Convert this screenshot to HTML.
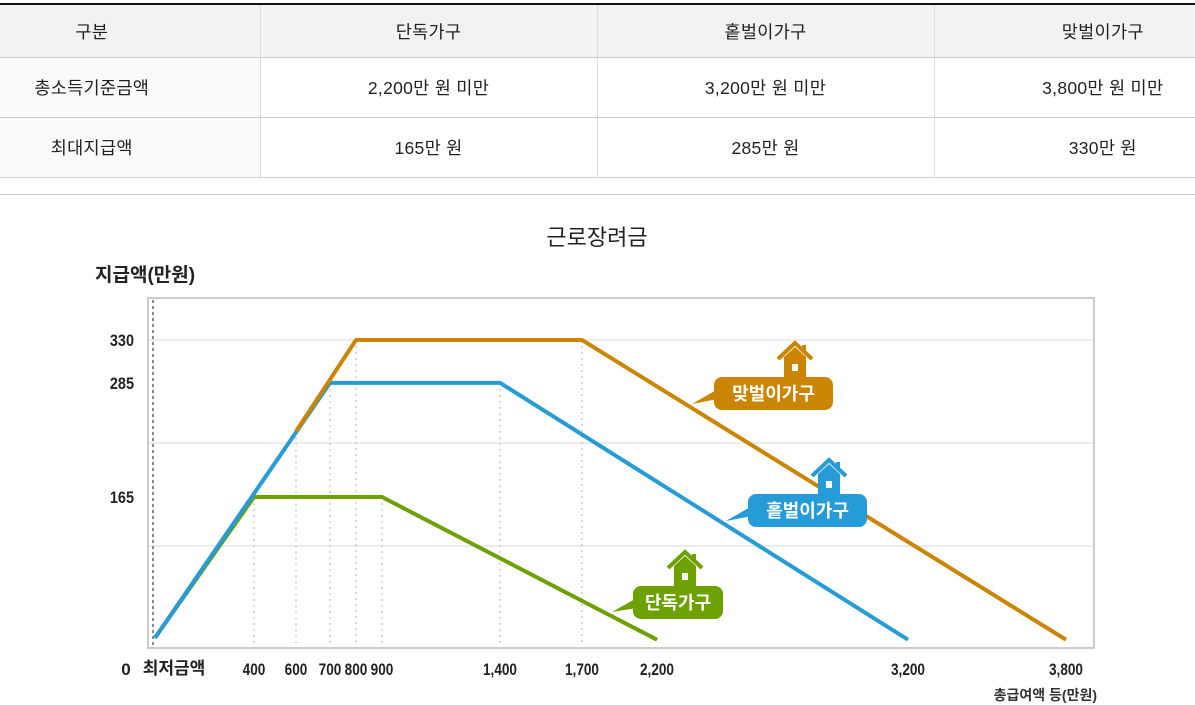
<!DOCTYPE html>
<html><head><meta charset="utf-8">
<style>
body{margin:0;width:1195px;height:705px;background:#fff;font-family:"Liberation Sans","Noto Sans CJK KR",sans-serif;overflow:hidden;position:relative}
table{position:absolute;left:0;top:3px;width:1195px;border-collapse:collapse;border-top:2px solid #111;table-layout:fixed}
td{height:59px;text-align:center;font-size:17.5px;color:#222;border-bottom:1px solid #ccc;border-right:1px solid #ddd;padding:0;letter-spacing:0.3px}
tr:first-child td{height:52px;background:#f2f2f2}
td:first-child{background:#fafafa;padding-right:76px}
tr:first-child td:first-child{background:#f2f2f2}
td:last-child{border-right:none;padding-left:76px}
#sep{position:absolute;left:0;top:194px;width:1195px;height:1px;background:#ccc}
svg{position:absolute;left:0;top:0}
</style></head><body>
<table>
<colgroup><col style="width:260px"><col style="width:337px"><col style="width:337px"><col style="width:261px"></colgroup>
<tr><td>구분</td><td>단독가구</td><td>홑벌이가구</td><td>맞벌이가구</td></tr>
<tr><td>총소득기준금액</td><td>2,200만 원 미만</td><td>3,200만 원 미만</td><td>3,800만 원 미만</td></tr>
<tr><td>최대지급액</td><td>165만 원</td><td>285만 원</td><td>330만 원</td></tr>
</table>
<div id="sep"></div>
<svg id="chart" width="1195" height="705"></svg>
<script>
const xTicks=[400,600,700,800,900,1400,1700,2200,3200,3800];
const xTickLabels=["400","600","700","800","900","1,400","1,700","2,200","3,200","3,800"];
const yTicks=[330,285,165];
const yTickLabels=["330","285","165"];
const singleX=[0,400,900,2200], singleY=[17,165,165,15];
const oneEarnerX=[0,700,1400,3200], oneEarnerY=[17,285,285,15];
const dualX=[600,800,1700,3800], dualY=[234,330,330,15];
// piecewise axis scale (non-linear axis in source)
const xDom=[0,400,600,700,800,900,1400,1700,2200,3200,3800];
const xRng=[155,254,296,330,356,382,500,582,657,908,1066];
function xs(v){for(let i=1;i<xDom.length;i++){if(v<=xDom[i]){const t=(v-xDom[i-1])/(xDom[i]-xDom[i-1]);return xRng[i-1]+t*(xRng[i]-xRng[i-1]);}}return xRng[xRng.length-1];}
function ys(v){return 654-0.9515*v;}
const svg=document.getElementById('chart');const NS='http://www.w3.org/2000/svg';
function el(t,a,txt){const e=document.createElementNS(NS,t);for(const k in a)e.setAttribute(k,a[k]);if(txt!==undefined)e.textContent=txt;svg.appendChild(e);return e;}
let e;
e=el('text',{x:597,y:245,'text-anchor':'middle','font-size':22,fill:'#222'},'근로장려금');

e=el('text',{x:95,y:281,'font-size':19,'font-weight':'bold',fill:'#222'},'지급액(만원)');

e=el('rect',{x:148,y:298,width:946,height:350,fill:'#fff',stroke:'#ccc','stroke-width':2});

[340,443,546].forEach(y=>{e=el('line',{x1:149,x2:1093,y1:y,y2:y,stroke:'#e6e6e6','stroke-width':1.5});
});
e=el('line',{x1:153,x2:153,y1:300,y2:646,stroke:'#888','stroke-width':2,'stroke-dasharray':'3,3'});

[400,600,700,800,900,1400,1700].forEach(v=>{
 const yt=v===400||v===900?ys(165):(v===700||v===1400?ys(285):(v===600?ys(234):ys(330)));
 e=el('line',{x1:xs(v),x2:xs(v),y1:yt,y2:646,stroke:'#ccc','stroke-width':1.5,'stroke-dasharray':'2,4'});
 });
function series(xsA,ysA,color,name){e=el('polyline',{points:xsA.map((v,i)=>xs(v)+','+ys(ysA[i])).join(' '),fill:'none',stroke:color,'stroke-width':4,'stroke-linejoin':'round'});
}
series(singleX,singleY,'#6ca100','line-single');
series(oneEarnerX,oneEarnerY,'#259bd8','line-single-earner');
series(dualX,dualY,'#cc8500','line-dual-earner');
xTicks.forEach((v,i)=>{e=el('text',{x:xs(v),y:675,'text-anchor':'middle','font-size':17,'font-weight':'bold',fill:'#222',transform:`translate(${xs(v)},0) scale(0.8,1) translate(${-xs(v)},0)`},xTickLabels[i]);
});
e=el('text',{x:126,y:675,'text-anchor':'middle','font-size':17,'font-weight':'bold',fill:'#222'},'0');

e=el('text',{x:174,y:674,'text-anchor':'middle','font-size':17,'font-weight':'bold',fill:'#222'},'최저금액');

e=el('text',{x:1097,y:700,'text-anchor':'end','font-size':14,'font-weight':'bold',fill:'#333'},'총급여액 등(만원)');

yTicks.forEach((v,i)=>{e=el('text',{x:134,y:ys(v)+6,'text-anchor':'end','font-size':17,'font-weight':'bold',fill:'#222',transform:`translate(134,0) scale(0.85,1) translate(-134,0)`},yTickLabels[i]);
});
function callout(x,y,w,color,txt,tx,ty,name){
 const g=document.createElementNS(NS,'g');svg.appendChild(g);
 
 const hx=x+w-38,hy=y;
 g.innerHTML=`<path d="M${x+4} ${y+12} L${tx} ${ty} L${x+4} ${y+22}Z" fill="${color}"/>
<rect x="${x}" y="${y}" width="${w}" height="33" rx="8" fill="${color}"/>
<path d="M${hx-17} ${hy-18} L${hx} ${hy-34} L${hx+17} ${hy-18}" fill="none" stroke="${color}" stroke-width="4"/>
<rect x="${hx+7}" y="${hy-32}" width="4" height="8" fill="${color}"/>
<path d="M${hx-11} ${hy-20} L${hx} ${hy-30} L${hx+11} ${hy-20} V${hy} H${hx-11}Z" fill="${color}"/>
<rect x="${hx-3}" y="${hy-13}" width="6" height="7" fill="#fff"/>
<text x="${x+w/2}" y="${y+23}" text-anchor="middle" font-size="18" font-weight="bold" fill="#fff">${txt}</text>`;}
callout(714,377,119,'#cc8500','맞벌이가구',692,404,'label-dual-earner');
callout(748,494,119,'#259bd8','홑벌이가구',726,521,'label-single-earner');
callout(633,586,90,'#6ca100','단독가구',612,612,'label-single');
</script>
</body></html>
